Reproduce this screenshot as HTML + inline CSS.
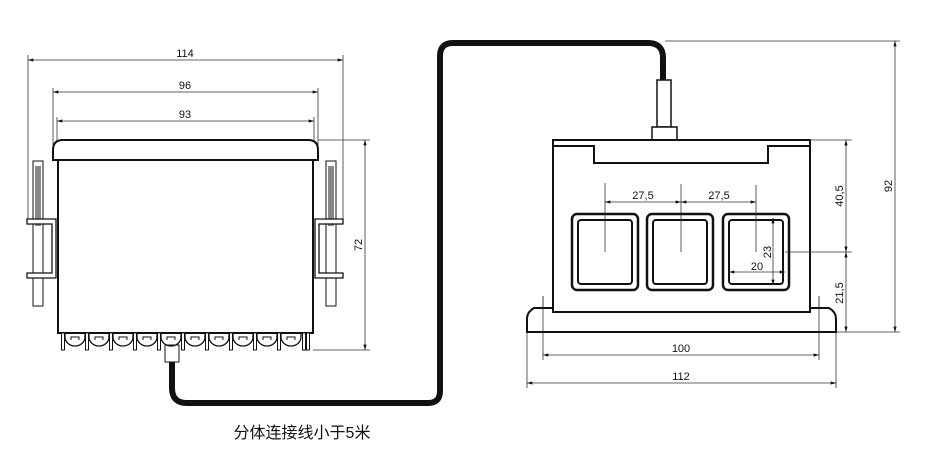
<!DOCTYPE html>
<html><head><meta charset="utf-8"><style>
html,body{margin:0;padding:0;background:#fff}
svg{display:block}
text{font-family:"Liberation Sans",sans-serif;font-size:11px;fill:#111}
</style></head><body>
<svg width="928" height="476" viewBox="0 0 928 476" xmlns="http://www.w3.org/2000/svg">
<defs>
<marker id="a" viewBox="0 0 10 6" refX="10" refY="3" markerWidth="8" markerHeight="4" orient="auto-start-reverse"><path d="M0,0L10,3L0,6z" fill="#111"/></marker>
<g id="bump"><path d="M-10,333 v4 a10,9 0 0 0 20,0 v-4" fill="none" stroke="#111" stroke-width="1.3"/><path d="M-4,340 v-3 h8 v3" fill="none" stroke="#111" stroke-width="1"/></g>
<g id="post"><rect x="-1.5" y="333" width="3" height="17" fill="#fff" stroke="#111" stroke-width="1"/></g>
<g id="win"><rect x="0" y="0" width="66" height="76" rx="5" fill="none" stroke="#111" stroke-width="2.5"/><rect x="6" y="6" width="54" height="64" rx="3" fill="none" stroke="#111" stroke-width="2"/></g>
</defs>
<g stroke="#333" stroke-width="0.8" fill="none">
<line x1="28" y1="55" x2="28" y2="220"/><line x1="343" y1="55" x2="343" y2="220"/>
<line x1="28" y1="60" x2="343" y2="60" marker-start="url(#a)" marker-end="url(#a)"/>
<line x1="53" y1="88" x2="53" y2="145"/><line x1="318" y1="88" x2="318" y2="145"/>
<line x1="53" y1="92" x2="318" y2="92" marker-start="url(#a)" marker-end="url(#a)"/>
<line x1="57" y1="117" x2="57" y2="160"/><line x1="314" y1="117" x2="314" y2="160"/>
<line x1="57" y1="121" x2="314" y2="121" marker-start="url(#a)" marker-end="url(#a)"/>
<line x1="318" y1="140" x2="370" y2="140"/><line x1="313" y1="350" x2="370" y2="350"/>
<line x1="365" y1="140" x2="365" y2="350" marker-start="url(#a)" marker-end="url(#a)"/>
<line x1="665" y1="41" x2="900" y2="41"/>
<line x1="895" y1="41" x2="895" y2="332" marker-start="url(#a)" marker-end="url(#a)"/>
<line x1="810" y1="140" x2="852" y2="140"/><line x1="836" y1="332" x2="900" y2="332"/>
<line x1="846" y1="140" x2="846" y2="252" marker-start="url(#a)" marker-end="url(#a)"/>
<line x1="846" y1="252" x2="846" y2="332" marker-start="url(#a)" marker-end="url(#a)"/>
<line x1="543" y1="296" x2="543" y2="360"/><line x1="819" y1="296" x2="819" y2="360"/>
<line x1="543" y1="355" x2="819" y2="355" marker-start="url(#a)" marker-end="url(#a)"/>
<line x1="527" y1="332" x2="527" y2="388"/><line x1="836" y1="332" x2="836" y2="388"/>
<line x1="527" y1="383" x2="836" y2="383" marker-start="url(#a)" marker-end="url(#a)"/>
</g>
<path d="M172,362 V388 Q172,403 187,403 H428 Q440,403 440,391 V56 Q440,43 453,43 H648 Q663,43 663,58 V82" fill="none" stroke="#111" stroke-width="6"/>
<g stroke="#111" fill="#fff">
<rect x="33" y="161" width="10" height="145" stroke-width="1"/>
<rect x="35" y="166" width="6" height="60" fill="#888" stroke="none"/>
<rect x="326" y="161" width="10" height="145" stroke-width="1"/>
<rect x="328" y="166" width="6" height="60" fill="#888" stroke="none"/>
<path d="M27,219 H56 V278 H27 V273 H52 V224 H27 Z" stroke-width="1.3"/>
<path d="M343,219 H315 V278 H343 V273 H319 V224 H343 Z" stroke-width="1.3"/>
<path d="M53,160 V150 Q53,140 63,140 H308 Q318,140 318,150 V160 Z" stroke-width="2"/>
<rect x="58" y="160" width="255" height="173" stroke-width="2"/>
<rect x="165" y="345" width="14" height="17" stroke-width="1"/>
</g>
<use href="#bump" x="75"/><use href="#bump" x="99"/><use href="#bump" x="123"/><use href="#bump" x="147"/><use href="#bump" x="171"/><use href="#bump" x="195"/><use href="#bump" x="219"/><use href="#bump" x="243"/><use href="#bump" x="267"/><use href="#bump" x="291"/>
<use href="#post" x="63"/><use href="#post" x="87"/><use href="#post" x="111"/><use href="#post" x="135"/><use href="#post" x="159"/><use href="#post" x="183"/><use href="#post" x="207"/><use href="#post" x="231"/><use href="#post" x="255"/><use href="#post" x="279"/><use href="#post" x="304"/><use href="#post" x="308"/>
<g stroke="#111" fill="#fff" stroke-width="2">
<rect x="657" y="80" width="14" height="47" stroke-width="1.5"/>
<rect x="652" y="127" width="25" height="13" stroke-width="1.5"/>
<rect x="553" y="140" width="257" height="172"/>
<path d="M554,146 H594 V163 H768 V146 H809" fill="none"/>
<path d="M527,332 V319 Q527,312 534,308 H553 V312 H810 V308 H829 Q836,312 836,319 V332 Z"/>
</g>
<use href="#win" x="572" y="214"/><use href="#win" x="647" y="214"/><use href="#win" x="723" y="214"/>
<g stroke="#333" stroke-width="0.8" fill="none">
<line x1="543" y1="296" x2="543" y2="332"/><line x1="819" y1="296" x2="819" y2="332"/>
<line x1="785" y1="252" x2="852" y2="252"/>
<line x1="605" y1="183" x2="605" y2="252"/><line x1="681" y1="184" x2="681" y2="252"/><line x1="756" y1="185" x2="756" y2="252"/>
<line x1="605" y1="202" x2="681" y2="202" marker-start="url(#a)" marker-end="url(#a)"/>
<line x1="681" y1="202" x2="756" y2="202" marker-start="url(#a)" marker-end="url(#a)"/>
<line x1="773" y1="218" x2="773" y2="285" marker-start="url(#a)" marker-end="url(#a)"/>
<line x1="729" y1="272" x2="785" y2="272" marker-start="url(#a)" marker-end="url(#a)"/>
</g>
<text x="185" y="57" text-anchor="middle">114</text>
<text x="185" y="89" text-anchor="middle">96</text>
<text x="185" y="118" text-anchor="middle">93</text>
<text transform="translate(362,245) rotate(-90)" text-anchor="middle">72</text>
<text x="643" y="199" text-anchor="middle">27,5</text>
<text x="719" y="199" text-anchor="middle">27,5</text>
<text transform="translate(771,252) rotate(-90)" text-anchor="middle">23</text>
<text x="757" y="270" text-anchor="middle">20</text>
<text transform="translate(843,196) rotate(-90)" text-anchor="middle">40,5</text>
<text transform="translate(843,293) rotate(-90)" text-anchor="middle">21,5</text>
<text transform="translate(892,186) rotate(-90)" text-anchor="middle">92</text>
<text x="681" y="352" text-anchor="middle">100</text>
<text x="681" y="380" text-anchor="middle">112</text>
<text x="302" y="438" text-anchor="middle" style="font-family:'Liberation Sans','Noto Sans CJK SC',sans-serif;font-size:16px">分体连接线小于5米</text>
</svg>
</body></html>
